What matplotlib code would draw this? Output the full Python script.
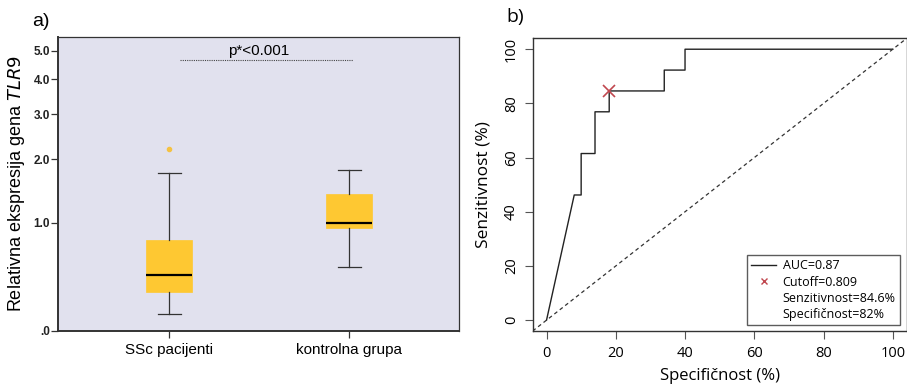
import numpy as np
import matplotlib
matplotlib.use("Agg")
import matplotlib.pyplot as plt
from matplotlib.lines import Line2D

# ---------------------------------------------------------------
# data
# ---------------------------------------------------------------
groups = ["SSc pacijenti", "kontrolna grupa"]
whis_lo = [0.115, 0.51]
q1 = [0.28, 0.93]
median = [0.43, 1.0]
q3 = [0.79, 1.40]
whis_hi = [1.74, 1.80]
outliers = [[2.2], []]
y_ticks = [0.0, 1.0, 2.0, 3.0, 4.0, 5.0]
y_ticklabels = [".0", "1.0", "2.0", "3.0", "4.0", "5.0"]
p_text = "p*<0.001"
p_level = 4.66

# ROC curve (x = 100 - specificity, y = sensitivity), in %
roc_x = [0, 8, 10, 10, 14, 14, 18.1, 18.1, 34, 34, 40, 40, 100]
roc_y = [0, 46.2, 46.2, 61.5, 61.5, 76.9, 76.9, 84.6, 84.6, 92.3, 92.3, 100, 100]
cut_x, cut_y = 18.1, 84.6
legend_txt = ["AUC=0.87", "Cutoff=0.809", "Senzitivnost=84.6%", "Specifičnost=82%"]

# ---------------------------------------------------------------
# figure
# ---------------------------------------------------------------
fig = plt.figure(figsize=(9.07, 3.85), dpi=100)

# ---- a) boxplot on log(1+x) scale ----
ax1 = fig.add_axes([0.0643, 0.1403, 0.4418, 0.7644])
ax1.set_facecolor("#e1e1ee")
ax1.set_yscale("function", functions=(np.log1p, np.expm1))

stats = []
for i in range(len(groups)):
    stats.append(dict(med=median[i], q1=q1[i], q3=q3[i],
                      whislo=whis_lo[i], whishi=whis_hi[i],
                      fliers=outliers[i], label=groups[i]))
pos = [1, 2]
ax1.bxp(stats, positions=pos, widths=0.254, patch_artist=True,
        boxprops=dict(facecolor="#fec832", edgecolor="#fec832", linewidth=0.5),
        medianprops=dict(color="black", linewidth=1.6),
        whiskerprops=dict(color="#333333", linewidth=0.9),
        capprops=dict(color="#333333", linewidth=0.9),
        capwidths=0.127,
        flierprops=dict(marker="o", markersize=3, markerfacecolor="#f5c242",
                        markeredgecolor="#f5c242"))

ax1.set_xlim(0.385, 2.61)
ax1.set_ylim(0, 5.56)
ax1.set_yticks(y_ticks)
ax1.set_yticklabels(y_ticklabels, fontsize=8.5, fontweight="bold",
                    family="Liberation Sans", color="#222222")
ax1.yaxis.set_minor_locator(matplotlib.ticker.NullLocator())
ax1.set_xticks(pos)
ax1.set_xticklabels(groups, fontsize=11, family="Liberation Sans")
ax1.tick_params(axis="both", direction="out", length=5, width=0.9, color="#333333")
ax1.tick_params(axis="y", pad=1)
for s in ax1.spines.values():
    s.set_color("#333333")
    s.set_linewidth(0.9)
ax1.spines["left"].set_linewidth(1.4)
ax1.spines["bottom"].set_linewidth(1.4)

ax1.plot([1.06, 2.02], [p_level, p_level], ls=(0, (1, 1)), color="#444444", lw=0.8)
ax1.text(1.5, p_level * 1.01, p_text, ha="center", va="bottom",
         fontsize=11, family="Liberation Sans")
ax1.set_ylabel("Relativna ekspresija gena $\\it{TLR9}$", fontsize=13,
               family="Liberation Sans", labelpad=5)
fig.text(0.045, 0.945, "a)", fontsize=14, family="Liberation Sans",
         ha="center", va="center")

# ---- b) ROC curve ----
ax2 = fig.add_axes([0.5873, 0.1403, 0.4123, 0.760])
ax2.plot(roc_x, roc_y, color="#222222", lw=1.0)
ax2.plot([-4, 104], [-4, 104], ls=(0, (3, 2.5)), color="#333333", lw=0.9)
ax2.plot(cut_x, cut_y, marker="x", color="#c0474f", markersize=8, mew=1.2, ls="none")
ax2.set_xlim(-4, 104)
ax2.set_ylim(-4, 104)
ax2.set_xticks([0, 20, 40, 60, 80, 100])
ax2.set_yticks([0, 20, 40, 60, 80, 100])
ax2.tick_params(axis="both", direction="out", length=6, width=0.8,
                color="#555555", labelsize=10.5, pad=5)
ax2.tick_params(axis="y", pad=4)
for lab in ax2.get_xticklabels() + ax2.get_yticklabels():
    lab.set_family("Open Sans")
for lab in ax2.get_yticklabels():
    lab.set_rotation(90)
    lab.set_va("center")
for s in ax2.spines.values():
    s.set_color("#333333")
    s.set_linewidth(1.0)
ax2.set_xlabel("Specifičnost (%)", fontsize=12, family="Open Sans", labelpad=5)
ax2.set_ylabel("Senzitivnost (%)", fontsize=12.5, family="Open Sans", labelpad=9)
fig.text(0.568, 0.955, "b)", fontsize=14, family="Open Sans",
         ha="center", va="center")

handles = [Line2D([], [], color="#222222", lw=1.0),
           Line2D([], [], color="#c0474f", marker="x", ls="none", markersize=5, mew=1.0),
           Line2D([], [], ls="none"),
           Line2D([], [], ls="none")]
leg = ax2.legend(handles, legend_txt, loc="lower right",
                 frameon=True, fancybox=False, borderpad=0.35, borderaxespad=0,
                 handlelength=2.0, handletextpad=0.5, labelspacing=0.25,
                 bbox_to_anchor=(0.982, 0.02), prop={"family": "Open Sans", "size": 9})
leg.get_frame().set_edgecolor("#333333")
leg.get_frame().set_linewidth(1.0)

fig.savefig("out.png", dpi=100)
